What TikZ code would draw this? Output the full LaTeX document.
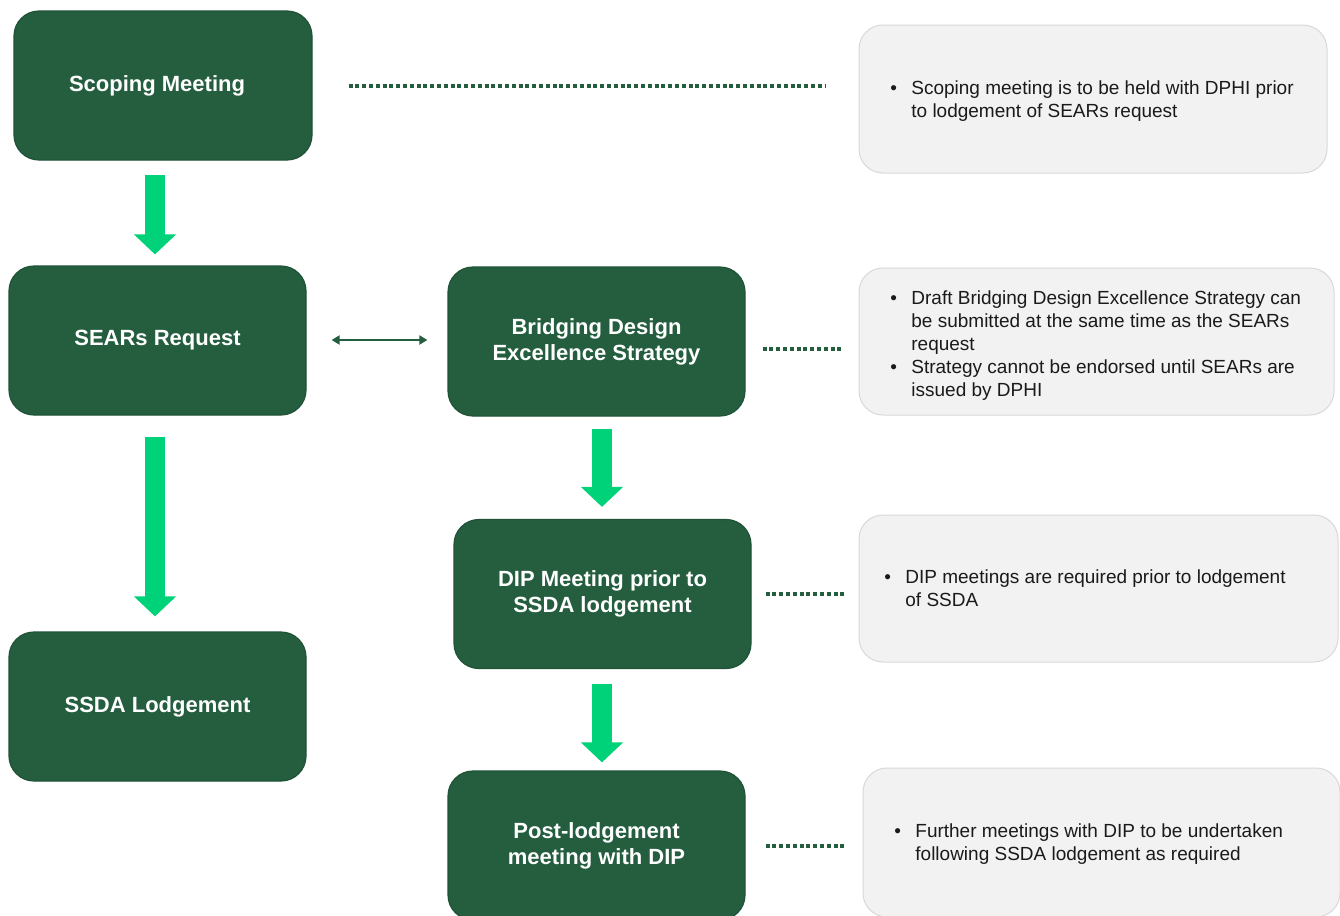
\documentclass[tikz,border=0pt]{standalone}
\usepackage{fontspec}
\setmainfont{Liberation Sans}
\usetikzlibrary{arrows.meta,calc}
\definecolor{dkgreen}{HTML}{245E3F}
\definecolor{dkborder}{HTML}{1F5236}
\definecolor{ltgreen}{HTML}{00D27A}
\definecolor{grayfill}{HTML}{F2F2F2}
\definecolor{grayline}{HTML}{D9D9D9}
\definecolor{notetxt}{HTML}{1A1A1A}
\begin{document}
\begin{tikzpicture}[x=0.5pt,y=-0.5pt,
 stepbox/.style={draw=dkborder, line width=0.6pt, fill=dkgreen, rounded corners=12.5pt, minimum width=148.5pt, minimum height=74.5pt, inner sep=0pt, text=white, font=\fontsize{11}{13}\selectfont\bfseries, align=center},
 notebox/.style={draw=grayline, line width=0.5pt, fill=grayfill, rounded corners=12pt, inner sep=0pt},
 notetext/.style={anchor=base west, inner sep=0pt, font=\fontsize{9.5}{11.5}\selectfont, text=notetxt},
 bigarrow/.style={draw=ltgreen, line width=10pt, -{Triangle[width=20.5pt,length=10pt]}},
 dotline/.style={draw=dkgreen, line width=2pt, dash pattern=on 2pt off 1.4pt},
 dblarrow/.style={draw=dkgreen, line width=1pt, {Triangle[width=4.5pt,length=4pt]}-{Triangle[width=4.5pt,length=4pt]}}]
\fill[white] (0,0) rectangle (1340,916);
\useasboundingbox (0,0) rectangle (1340,916);

% green step boxes
\node[stepbox, minimum width=149pt] (scoping) at (163,85.5) {Scoping Meeting\hspace*{6pt}};
\node[stepbox] (sears) at (157.5,340.5) {SEARs Request};
\node[stepbox] (ssda) at (157.5,706.5) {SSDA Lodgement};
\node[stepbox] (bridging) at (596.5,341.5) {Bridging Design\\Excellence Strategy};
\node[stepbox] (dip) at (602.5,594) {DIP Meeting prior to\\SSDA lodgement};
\node[stepbox] (post) at (596.5,845.5) {Post-lodgement\\meeting with DIP};

% grey note boxes
\node[notebox, minimum width=234pt, minimum height=74pt] (n1) at (1093,99) {};
\node[notebox, minimum width=237.5pt, minimum height=73.5pt] (n2) at (1096.5,341.5) {};
\node[notebox, minimum width=239.5pt, minimum height=73.5pt] (n3) at (1098.5,588.5) {};
\node[notebox, minimum width=238.5pt, minimum height=74.5pt] (n4) at (1101.5,842.5) {};

\node[notetext] (t1) at (890,94.5) {\begin{tabular}[t]{@{}p{10.5pt}@{}l@{}}
• & Scoping meeting is to be held with DPHI prior\\
 & to lodgement of SEARs request
\end{tabular}};
\node[notetext] (t2) at (890,304.5) {\begin{tabular}[t]{@{}p{10.5pt}@{}l@{}}
• & Draft Bridging Design Excellence Strategy can\\
 & be submitted at the same time as the SEARs\\
 & request\\
• & Strategy cannot be endorsed until SEARs are\\
 & issued by DPHI
\end{tabular}};
\node[notetext] (t3) at (884,583.5) {\begin{tabular}[t]{@{}p{10.5pt}@{}l@{}}
• & DIP meetings are required prior to lodgement\\
 & of SSDA
\end{tabular}};
\node[notetext] (t4) at (894,837.5) {\begin{tabular}[t]{@{}p{10.5pt}@{}l@{}}
• & Further meetings with DIP to be undertaken\\
 & following SSDA lodgement as required
\end{tabular}};

% big green arrows
\draw[bigarrow] ($(scoping.south)+(-8,14)$) -- ($(sears.north)+(-2.5,-11)$);
\draw[bigarrow] ($(sears.south)+(-2.5,21)$) -- ($(ssda.north)+(-2.5,-15)$);
\draw[bigarrow] ($(bridging.south)+(5.5,12)$) -- ($(dip.north)+(-0.5,-12)$);
\draw[bigarrow] ($(dip.south)+(-0.5,15)$) -- ($(post.north)+(5.5,-8)$);

% double arrow
\draw[dblarrow] ($(sears.east)+(25,-0.5)$) -- ($(bridging.west)+(-20,-1.5)$);

% dotted connectors
\draw[dotline] ($(scoping.east)+(36,0.5)$) -- ($(n1.west)+(-33,-13)$);
\draw[dotline] ($(bridging.east)+(17,7.5)$) -- ($(n2.west)+(-17,7.5)$);
\draw[dotline] ($(dip.east)+(14,0)$) -- ($(n3.west)+(-14,5.5)$);
\draw[dotline] ($(post.east)+(20,0.5)$) -- ($(n4.west)+(-18,3.5)$);
\end{tikzpicture}
\end{document}
